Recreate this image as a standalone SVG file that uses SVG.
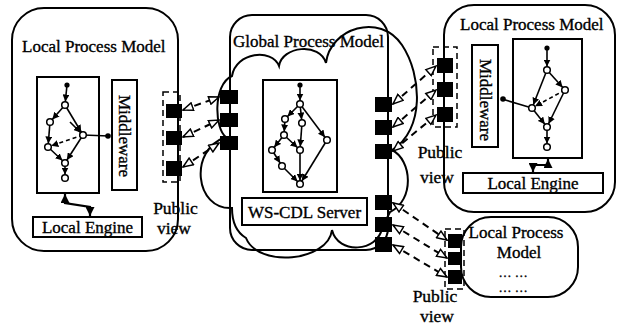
<svg xmlns="http://www.w3.org/2000/svg" width="626" height="325" viewBox="0 0 626 325">
<defs>
<style>
.box{fill:none;stroke:#000;stroke-width:2}
.wbox{fill:#fff;stroke:#000;stroke-width:2}
.pv{fill:none;stroke:#000;stroke-width:1.5;stroke-dasharray:6,4}
.sq{fill:#000}
.e{fill:none;stroke:#000;stroke-width:1.6;marker-end:url(#ah)}
.ed{fill:none;stroke:#000;stroke-width:1.6;stroke-dasharray:4,3;marker-end:url(#ah)}
.ln{fill:none;stroke:#000;stroke-width:1.6}
.n{fill:#fff;stroke:#000;stroke-width:1.5}
.msg{fill:none;stroke:#000;stroke-width:2;stroke-dasharray:7,5;marker-start:url(#ho);marker-end:url(#ho)}
.eng{fill:none;stroke:#000;stroke-width:2.2;marker-start:url(#ae);marker-end:url(#ae)}
.t{font-family:"Liberation Serif","Times New Roman",serif;font-size:17px;fill:#000;stroke:#000;stroke-width:0.35}
.m{text-anchor:middle}
</style>
<marker id="ah" viewBox="0 0 10 10" markerUnits="userSpaceOnUse" markerWidth="7" markerHeight="7" refX="15" refY="5" orient="auto"><path d="M0,0 L10,5 L0,10 z" fill="#000"/></marker>
<marker id="ae" viewBox="0 0 10 10" markerUnits="userSpaceOnUse" markerWidth="9" markerHeight="9" refX="10" refY="5" orient="auto-start-reverse"><path d="M0,0 L10,5 L0,10 z" fill="#000"/></marker>
<marker id="ho" viewBox="0 0 12 10" markerUnits="userSpaceOnUse" markerWidth="12" markerHeight="10" refX="11" refY="5" orient="auto-start-reverse"><path d="M1,1 L11,5 L1,9 z" fill="#fff" stroke="#000" stroke-width="1.5" stroke-dasharray="none"/></marker>
</defs>
<rect width="626" height="325" fill="#fff"/>

<g id="local-left">
<rect class="box" x="12" y="8" width="166" height="243" rx="32"/>
<text class="t" x="22" y="52">Local Process Model</text>
<rect class="wbox" x="37" y="77" width="62" height="116"/>
<path class="e" d="M67,85 L65,105"/>
<path class="e" d="M65,105 L50,122"/>
<path class="e" d="M65,105 L83,135"/>
<path class="e" d="M70,122 L83,135"/>
<path class="e" d="M50,122 L48,147"/>
<path class="ed" d="M83,135 L48,147"/>
<path class="e" d="M48,147 L65,163"/>
<path class="e" d="M83,135 L65,163"/>
<path class="e" d="M65,163 L65,178"/>
<path class="ln" d="M83,135 L109,136"/>
<circle cx="67" cy="85" r="2.6" fill="#000"/>
<circle class="n" cx="65" cy="105" r="3.3"/>
<circle class="n" cx="50" cy="122" r="3.3"/>
<circle class="n" cx="83" cy="135" r="3.3"/>
<circle class="n" cx="48" cy="147" r="3.3"/>
<circle class="n" cx="65" cy="163" r="3.3"/>
<circle class="n" cx="65" cy="178" r="3.3"/>
<circle cx="108" cy="136" r="2.8" fill="#000"/>
<rect class="wbox" x="112" y="80" width="25" height="110"/>
<text class="t m" transform="translate(119,136) rotate(90)">Middleware</text>
<rect class="wbox" x="33" y="217" width="109" height="20"/>
<text class="t m" x="87.5" y="233">Local Engine</text>
<rect class="pv" x="163" y="92" width="17" height="90"/>
<rect class="sq" x="166" y="104" width="16" height="14"/>
<rect class="sq" x="166" y="131" width="16" height="14"/>
<rect class="sq" x="166" y="161" width="16" height="15"/>
<text class="t m" x="175.5" y="214" style="font-size:17.5px">Public</text>
<text class="t m" x="174" y="234" style="font-size:17.5px">view</text>
</g>

<g id="global">
<rect class="box" x="230" y="15" width="158" height="235" rx="22"/>
<path class="box" d="M232,76 C236,52 272,48 279,66 C282,46 320,42 326,63 C330,28 380,12 402,45 C422,75 425,130 392,150 C412,160 415,200 390,212 L382,228 C378,252 338,255 332,230 C328,262 258,268 246,238 C236,232 232,222 232,208 C195,210 188,150 226,137 C215,130 212,85 232,76 Z"/>
<text class="t" x="233" y="47">Global Process Model</text>
<rect class="wbox" x="263" y="80" width="74" height="112"/>
<path class="e" d="M300,85 L300,104"/>
<path class="e" d="M300,104 L285,119"/>
<path class="e" d="M300,104 L302,123"/>
<path class="e" d="M300,104 L327,140"/>
<path class="e" d="M285,119 L284,135"/>
<path class="e" d="M302,123 L300,150"/>
<path class="e" d="M284,135 L300,150"/>
<path class="e" d="M284,135 L272,150"/>
<path class="e" d="M272,150 L282,166"/>
<path class="e" d="M282,166 L300,184"/>
<path class="e" d="M300,150 L300,184"/>
<path class="e" d="M327,140 L300,184"/>
<circle cx="300" cy="85" r="2.6" fill="#000"/>
<circle class="n" cx="300" cy="104" r="3.3"/>
<circle class="n" cx="285" cy="119" r="3.3"/>
<circle class="n" cx="302" cy="123" r="3.3"/>
<circle class="n" cx="327" cy="140" r="3.3"/>
<circle class="n" cx="284" cy="135" r="3.3"/>
<circle class="n" cx="272" cy="150" r="3.3"/>
<circle class="n" cx="300" cy="150" r="3.3"/>
<circle class="n" cx="282" cy="166" r="3.3"/>
<circle class="n" cx="300" cy="184" r="3.3"/>
<rect class="wbox" x="242" y="198" width="125" height="27"/>
<text class="t m" x="304.5" y="218">WS-CDL Server</text>
<rect class="sq" x="220" y="90" width="18" height="14"/>
<rect class="sq" x="220" y="113" width="18" height="14"/>
<rect class="sq" x="220" y="136" width="18" height="14"/>
<rect class="sq" x="375" y="97" width="17" height="15"/>
<rect class="sq" x="375" y="120" width="17" height="15"/>
<rect class="sq" x="375" y="144" width="17" height="15"/>
<rect class="sq" x="375" y="195" width="17" height="15"/>
<rect class="sq" x="375" y="217" width="17" height="15"/>
<rect class="sq" x="375" y="237" width="17" height="15"/>
</g>

<g id="local-right">
<rect class="box" x="444" y="5" width="171" height="207" rx="30"/>
<text class="t" x="460" y="30">Local Process Model</text>
<rect class="wbox" x="513" y="39" width="69" height="119"/>
<path class="e" d="M547,48 L547,70"/>
<path class="e" d="M547,70 L565,90"/>
<path class="e" d="M547,70 L532,108"/>
<path class="ed" d="M565,90 L532,108"/>
<path class="e" d="M565,90 L547,127"/>
<path class="e" d="M532,108 L547,127"/>
<path class="e" d="M547,127 L547,147"/>
<path class="ln" d="M532,108 L502,99"/>
<circle cx="547" cy="48" r="2.6" fill="#000"/>
<circle class="n" cx="547" cy="70" r="3.3"/>
<circle class="n" cx="565" cy="90" r="3.3"/>
<circle class="n" cx="532" cy="108" r="3.3"/>
<circle class="n" cx="547" cy="127" r="3.3"/>
<circle class="n" cx="547" cy="147" r="3.3"/>
<circle cx="503" cy="99" r="2.8" fill="#000"/>
<rect class="wbox" x="472" y="45" width="26" height="102"/>
<text class="t m" transform="translate(479.5,100) rotate(90)">Middleware</text>
<rect class="wbox" x="463" y="173" width="140" height="20"/>
<text class="t m" x="533" y="189">Local Engine</text>
<rect class="pv" x="433" y="47" width="24" height="80"/>
<rect class="sq" x="437" y="58" width="16" height="15"/>
<rect class="sq" x="437" y="82" width="16" height="15"/>
<rect class="sq" x="437" y="107" width="16" height="15"/>
<text class="t m" x="440" y="158" style="font-size:17.5px">Public</text>
<text class="t m" x="437" y="183" style="font-size:17.5px">view</text>
</g>

<g id="local-bottom">
<rect class="wbox" x="461" y="217" width="117" height="80" rx="30"/>
<text class="t m" x="516" y="238">Local Process</text>
<text class="t m" x="519" y="258">Model</text>
<text class="t m" x="513" y="277" style="font-size:13px">… …</text>
<text class="t m" x="513" y="292" style="font-size:13px">… …</text>
<rect class="pv" x="445" y="229" width="19" height="60"/>
<rect class="sq" x="448" y="234" width="14" height="14"/>
<rect class="sq" x="448" y="252" width="14" height="13"/>
<rect class="sq" x="448" y="270" width="14" height="14"/>
<text class="t m" x="435" y="302" style="font-size:17.5px">Public</text>
<text class="t m" x="437" y="322" style="font-size:17.5px">view</text>
</g>

<g id="connectors">
<path class="msg" d="M183,110 L219,97"/>
<path class="msg" d="M183,137 L219,120"/>
<path class="msg" d="M183,167 L219,143"/>
<path class="msg" d="M393,104 L436,66"/>
<path class="msg" d="M393,127 L436,90"/>
<path class="msg" d="M393,151 L436,115"/>
<path class="msg" d="M393,203 L447,240"/>
<path class="msg" d="M393,225 L447,258"/>
<path class="msg" d="M393,245 L447,277"/>
<path class="eng" d="M65,194 L65,203 L90,207 L90,216"/>
<path class="eng" d="M548,159 L548,165 L533,165 L533,172"/>
</g>
</svg>
